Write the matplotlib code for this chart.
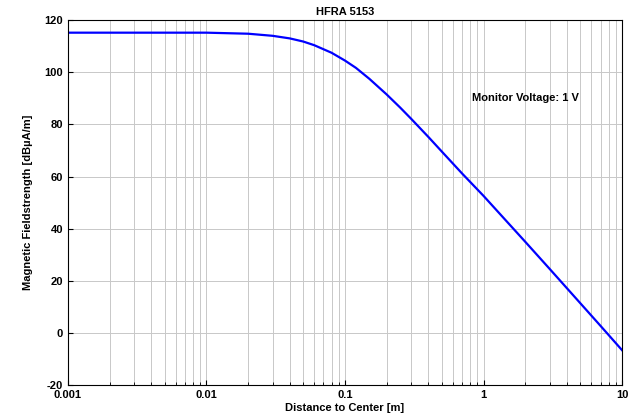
import matplotlib.pyplot as plt

plt.rcParams['font.family'] = ['Liberation Sans', 'DejaVu Sans']
plt.rcParams['axes.unicode_minus'] = False

distance = [0.001, 0.002, 0.005, 0.01, 0.02, 0.03, 0.04, 0.05, 0.06, 0.08, 0.1, 0.12,
            0.15, 0.2, 0.25, 0.3, 0.4, 0.5, 0.7, 1.0, 1.5, 2, 3, 5, 7, 10]
field = [115.2, 115.2, 115.2, 115.2, 114.8, 114.0, 113.0, 111.8, 110.4, 107.5, 104.5, 101.7,
         97.5, 91.5, 86.5, 82.2, 75.2, 69.6, 61.2, 52.6, 42.3, 35.0, 24.6, 11.4, 2.7, -6.6]

fig, ax = plt.subplots(figsize=(6.4, 4.2), dpi=100)
fig.subplots_adjust(left=0.106, right=0.972, top=0.952, bottom=0.083)
ax.semilogx(distance, field, color='#0000ff', lw=1.6)
ax.set_xlim(0.001, 10)
ax.set_ylim(-20, 120)
ax.set_yticks(range(-20, 121, 20))
ax.set_xticks([0.001, 0.01, 0.1, 1, 10])
ax.set_xticklabels(['0.001', '0.01', '0.1', '1', '10'])
ax.grid(True, which='both', color='#c8c8c8', lw=0.7)
ax.tick_params(which='both', direction='in', labelsize=8)
for lab in ax.get_xticklabels() + ax.get_yticklabels():
    lab.set_fontweight('bold')
ax.set_xlabel('Distance to Center [m]', fontsize=8, fontweight='bold', labelpad=2)
ax.set_ylabel('Magnetic Fieldstrength [dBµA/m]', fontsize=8, fontweight='bold', labelpad=8)
ax.set_title('HFRA 5153', fontsize=8, fontweight='bold', pad=4)
ax.text(0.83, 89, 'Monitor Voltage: 1 V', fontsize=8, fontweight='bold')
fig.savefig('out.png')
